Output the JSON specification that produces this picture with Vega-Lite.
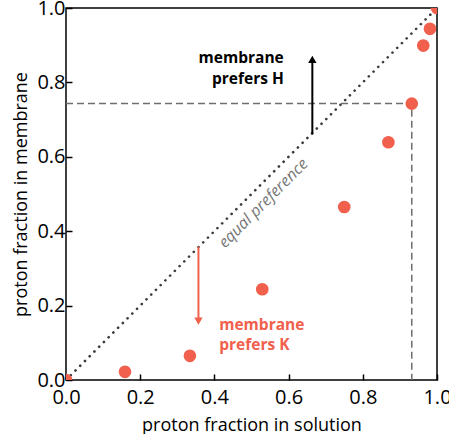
{
  "$schema": "https://vega.github.io/schema/vega-lite/v6.json",
  "width": 371,
  "height": 372,
  "autosize": "none",
  "padding": {"left": 66, "top": 8, "right": 12, "bottom": 54},
  "config": {
    "view": {"stroke": "black", "strokeWidth": 1.5},
    "font": "Open Sans",
    "axis": {
      "domain": false,
      "grid": false,
      "tickSize": -6,
      "tickColor": "black",
      "tickWidth": 1.5,
      "labelFont": "Open Sans",
      "labelFontSize": 20,
      "labelColor": "black",
      "titleFont": "Open Sans",
      "titleFontSize": 18,
      "titleFontWeight": "normal",
      "titleColor": "black",
      "labelFlush": false,
      "labelOverlap": false
    }
  },
  "datasets": {
    "pts": [
      {"s": 0.0, "m": 0.0},
      {"s": 0.159, "m": 0.022},
      {"s": 0.334, "m": 0.065},
      {"s": 0.529, "m": 0.244},
      {"s": 0.75, "m": 0.465},
      {"s": 0.869, "m": 0.639},
      {"s": 0.932, "m": 0.743},
      {"s": 0.963, "m": 0.899},
      {"s": 0.981, "m": 0.944},
      {"s": 1.0, "m": 1.0}
    ]
  },
  "layer": [
    {
      "data": {"values": [{"s": 0, "m": 0}, {"s": 1, "m": 1}]},
      "mark": {"type": "line", "color": "#3a3a3a", "strokeWidth": 2.6, "strokeDash": [0.1, 6.6], "strokeCap": "round", "clip": true},
      "encoding": {
        "x": {"field": "s", "type": "quantitative", "scale": {"domain": [0, 1], "nice": false},
              "axis": {"values": [0, 0.2, 0.4, 0.6, 0.8, 1.0], "format": ".1f", "title": "proton fraction in solution", "labelPadding": 13, "titlePadding": 9}},
        "y": {"field": "m", "type": "quantitative", "scale": {"domain": [0, 1], "nice": false},
              "axis": {"values": [0, 0.2, 0.4, 0.6, 0.8, 1.0], "format": ".1f", "title": "proton fraction in membrane", "labelPadding": 7, "titlePadding": 6}}
      }
    },
    {
      "data": {"values": [{"s": 0, "m": 0.743, "o": 1}, {"s": 0.932, "m": 0.743, "o": 2}, {"s": 0.932, "m": 0, "o": 3}]},
      "mark": {"type": "line", "color": "#6e6e6e", "strokeWidth": 1.5, "strokeDash": [7, 4]},
      "encoding": {
        "x": {"field": "s", "type": "quantitative"},
        "y": {"field": "m", "type": "quantitative"},
        "order": {"field": "o"}
      }
    },
    {
      "data": {"name": "pts"},
      "mark": {"type": "circle", "color": "#f1604c", "opacity": 1, "size": 160, "clip": true},
      "encoding": {
        "x": {"field": "s", "type": "quantitative"},
        "y": {"field": "m", "type": "quantitative"}
      }
    },
    {
      "data": {"values": [{"s": 0.664, "m": 0.66, "m2": 0.86, "c": "H"}, {"s": 0.357, "m": 0.358, "m2": 0.16, "c": "K"}]},
      "mark": {"type": "rule", "strokeWidth": 2},
      "encoding": {
        "x": {"field": "s", "type": "quantitative"},
        "y": {"field": "m", "type": "quantitative"},
        "y2": {"field": "m2"},
        "color": {"field": "c", "type": "nominal", "scale": {"domain": ["H", "K"], "range": ["#000000", "#f1604c"]}, "legend": null}
      }
    },
    {
      "data": {"values": [{"s": 0.664, "m": 0.862, "c": "H", "sh": "triangle-up"}, {"s": 0.357, "m": 0.158, "c": "K", "sh": "triangle-down"}]},
      "mark": {"type": "point", "filled": true, "opacity": 1, "size": 70},
      "encoding": {
        "x": {"field": "s", "type": "quantitative"},
        "y": {"field": "m", "type": "quantitative"},
        "shape": {"field": "sh", "type": "nominal", "scale": null, "legend": null},
        "color": {"field": "c", "type": "nominal", "legend": null}
      }
    },
    {
      "data": {"values": [{"s": 0.587, "m": 0.866, "t": "membrane", "c": "H"}, {"s": 0.587, "m": 0.81, "t": "prefers H", "c": "H"}]},
      "mark": {"type": "text", "align": "right", "baseline": "middle", "fontWeight": "bold", "fontSize": 15.5, "font": "Open Sans"},
      "encoding": {
        "x": {"field": "s", "type": "quantitative"},
        "y": {"field": "m", "type": "quantitative"},
        "text": {"field": "t"},
        "color": {"field": "c", "type": "nominal", "legend": null}
      }
    },
    {
      "data": {"values": [{"s": 0.413, "m": 0.149, "t": "membrane", "c": "K"}, {"s": 0.413, "m": 0.094, "t": "prefers K", "c": "K"}]},
      "mark": {"type": "text", "align": "left", "baseline": "middle", "fontWeight": "bold", "fontSize": 15.5, "font": "Open Sans"},
      "encoding": {
        "x": {"field": "s", "type": "quantitative"},
        "y": {"field": "m", "type": "quantitative"},
        "text": {"field": "t"},
        "color": {"field": "c", "type": "nominal", "legend": null}
      }
    },
    {
      "data": {"values": [{"s": 0.532, "m": 0.475, "t": "equal preference"}]},
      "mark": {"type": "text", "align": "center", "baseline": "middle", "fontStyle": "italic", "fontSize": 16, "angle": -45, "color": "#777777", "font": "Open Sans"},
      "encoding": {
        "x": {"field": "s", "type": "quantitative"},
        "y": {"field": "m", "type": "quantitative"},
        "text": {"field": "t"}
      }
    }
  ]
}
